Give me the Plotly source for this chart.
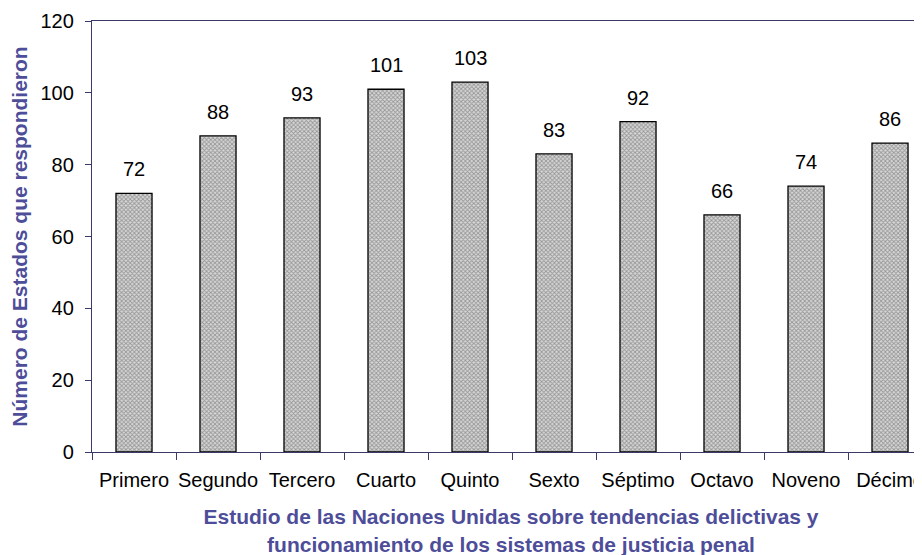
import plotly.graph_objects as go

categories = ["Primero", "Segundo", "Tercero", "Cuarto", "Quinto", "Sexto",
              "Séptimo", "Octavo", "Noveno", "Décimo"]
values = [72, 88, 93, 101, 103, 83, 92, 66, 74, 86]

axis_color = "#3a3a6a"
title_color = "#4d4d99"
font_family = "Liberation Sans, Arial, sans-serif"

fig = go.Figure(go.Bar(
    x=categories,
    y=values,
    marker=dict(
        color="#ffffff",
        line=dict(color="black", width=1.3),
        pattern=dict(shape="x", fgcolor="#555555", bgcolor="#d8d8d8",
                     size=3, solidity=0.5),
    ),
))

for c, v in zip(categories, values):
    fig.add_annotation(x=c, y=v, text=str(v), showarrow=False,
                       yanchor="bottom", yshift=11,
                       font=dict(size=20, color="black", family=font_family))

fig.update_layout(
    width=922, height=555,
    margin=dict(l=84, r=0, t=13, b=111),
    plot_bgcolor="white", paper_bgcolor="white",
    bargap=0.571,
    showlegend=False,
    font=dict(family=font_family, size=20, color="black"),
    xaxis=dict(
        type="category",
        range=[-0.5, 9.476],
        automargin=False,
        showline=True, linecolor=axis_color, linewidth=1.3,
        mirror=True,
        ticks="outside", ticklen=7, tickcolor=axis_color,
        tickson="boundaries",
        tickangle=0,
        ticklabelstandoff=10,
        tickfont=dict(size=20, color="black"),
        showgrid=False,
        title=dict(
            text="Estudio de las Naciones Unidas sobre tendencias delictivas y<br>funcionamiento de los sistemas de justicia penal",
            font=dict(size=21, color=title_color, family=font_family, weight="bold"),
            standoff=19,
        ),
    ),
    yaxis=dict(
        range=[0, 120],
        dtick=20,
        automargin=False,
        showline=True, linecolor=axis_color, linewidth=1.3,
        ticks="outside", ticklen=6, tickcolor=axis_color,
        ticklabelstandoff=7,
        tickfont=dict(size=20, color="black"),
        showgrid=False, zeroline=False,
        title=dict(
            text="Número de Estados que respondieron",
            font=dict(size=21, color=title_color, family=font_family, weight="bold"),
            standoff=12,
        ),
    ),
)

fig.write_html("out.html")
